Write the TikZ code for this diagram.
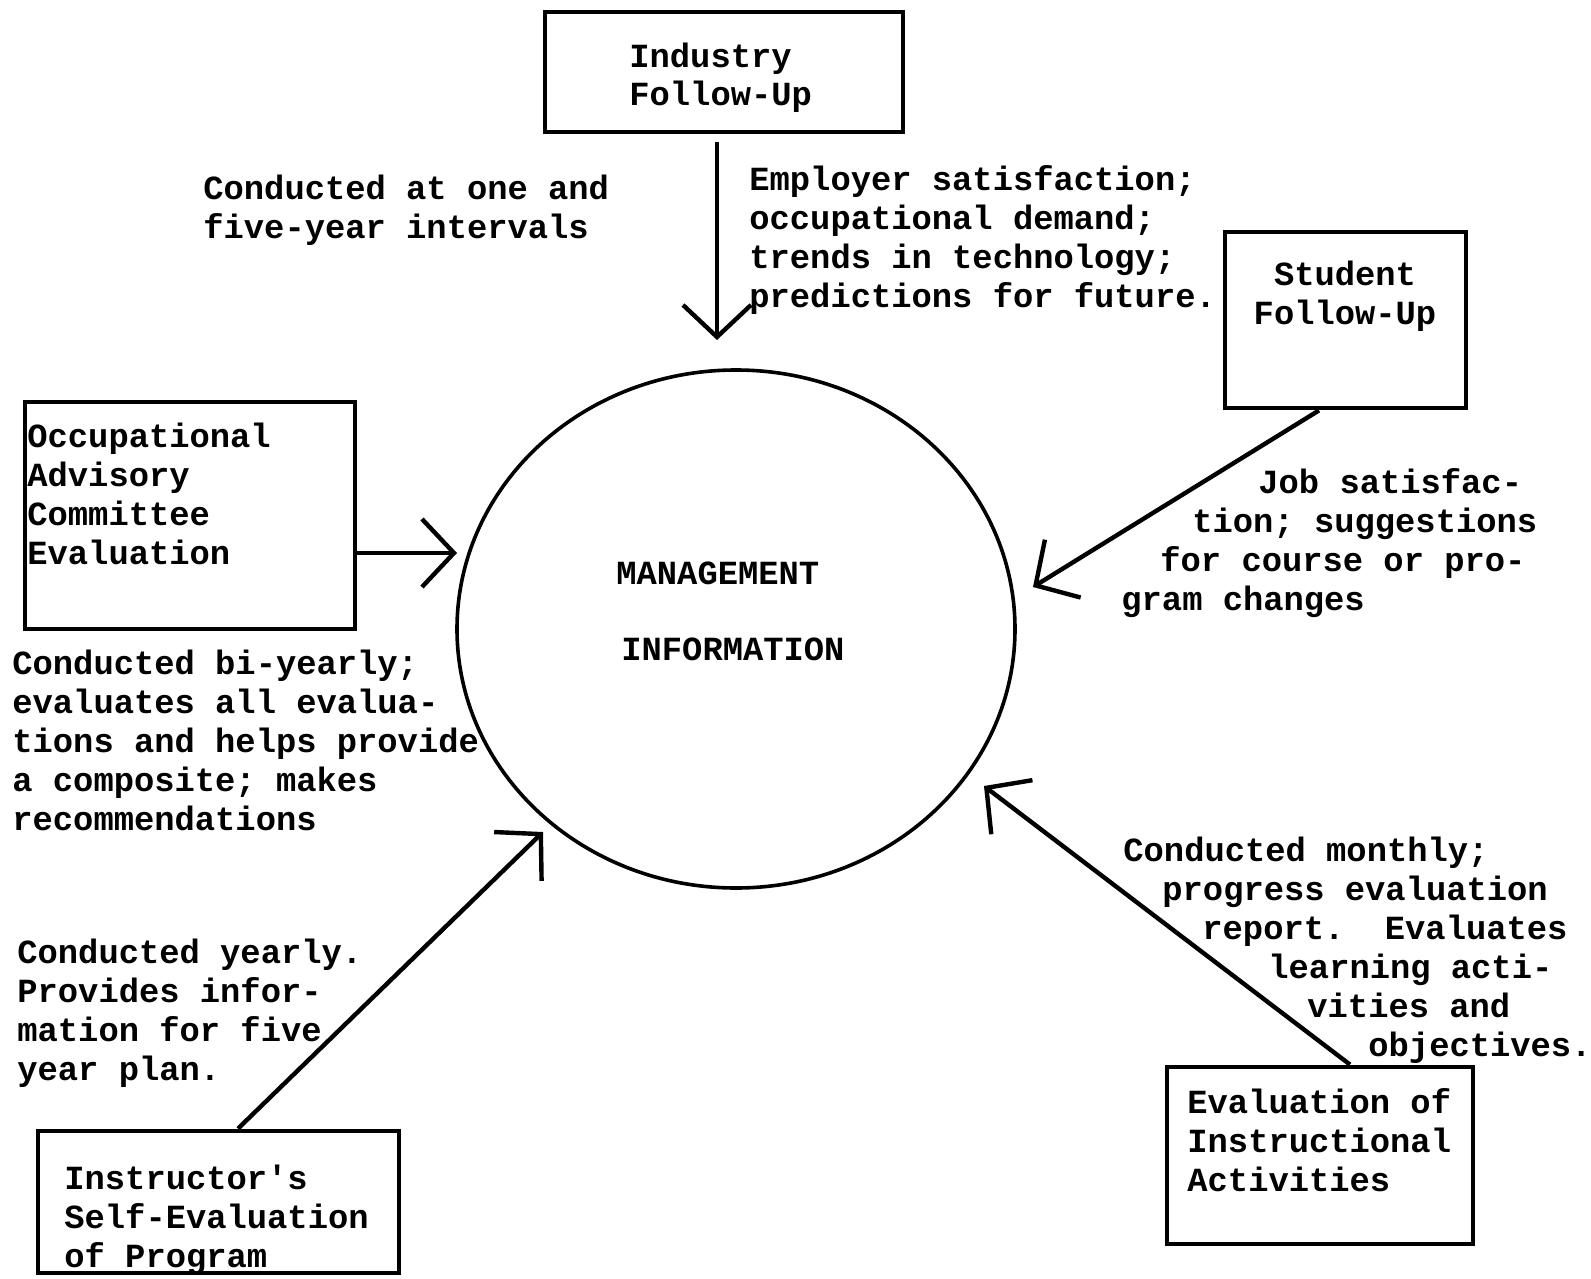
\documentclass[tikz,border=0pt]{standalone}
\usepackage{fontspec}
\usetikzlibrary{arrows.meta,shapes.geometric}
\newfontfamily\twfont{Liberation Mono}
\begin{document}
\begin{tikzpicture}[x=0.5pt,y=-0.5pt,
  box/.style={draw, line width=2.4pt, inner sep=0pt},
  txt/.style={font=\twfont\bfseries\fontsize{16.9}{19.5}\selectfont, align=left, inner sep=0pt, anchor=base west},
  ctxt/.style={font=\twfont\bfseries\fontsize{16.9}{19.5}\selectfont, align=center, inner sep=0pt, anchor=base},
  conn/.style={line width=2.2pt, -{Straight Barb[length=16pt,width=34pt]}}]
\fill[white] (0,0) rectangle (1591,1279);
\useasboundingbox (0,0) rectangle (1591,1279);

% boxes
\node[box, minimum width=179pt, minimum height=60pt] (ind) at (724,72) {};
\node[box, minimum width=120.5pt, minimum height=88pt] (stu) at (1345.5,320) {};
\node[box, minimum width=165pt, minimum height=113.5pt] (occ) at (190,515.5) {};
\node[box, minimum width=180.5pt, minimum height=71pt] (ins) at (218.5,1202) {};
\node[box, minimum width=153pt, minimum height=88.5pt] (evl) at (1320,1155.5) {};
\node[draw, ellipse, line width=1.8pt, minimum width=279pt, minimum height=259pt, inner sep=0pt] (mgmt) at (736,629) {};

% box texts (anchor = baseline of last line)
\node[txt] (indt) at (629,106) {Industry\\Follow-Up};
\node[ctxt] (stut) at (1345,324) {Student\\Follow-Up};
\node[txt] (occt) at (27,564) {Occupational\\Advisory\\Committee\\Evaluation};
\node[txt] (inst) at (64,1267) {Instructor's\\Self-Evaluation\\of Program};
\node[txt] (evlt) at (1187,1191) {Evaluation of\\Instructional\\Activities};
\node[txt] (mgt) at (616,660) {MANAGEMENT\\[18.5pt]\hspace*{2.5pt}INFORMATION};

% annotations
\node[txt] (a1) at (203,238) {Conducted at one and\\five-year intervals};
\node[txt] (a2) at (749,307) {Employer satisfaction;\\occupational demand;\\trends in technology;\\predictions for future.};
\node[txt] (a3) at (1121,610) {\hspace*{68.5pt}Job satisfac-\\\hspace*{35.5pt}tion; suggestions\\\hspace*{19.5pt}for course or pro-\\gram changes};
\node[txt] (a4) at (12,830) {Conducted bi-yearly;\\evaluates all evalua-\\tions and helps provide\\a composite; makes\\recommendations};
\node[txt] (a5) at (17,1080) {Conducted yearly.\\Provides infor-\\mation for five\\year plan.};
\node[txt] (a6) at (1123,1056) {Conducted monthly;\\\hspace*{19.5pt}progress evaluation\\\hspace*{39.5pt}report.~~Evaluates\\\hspace*{72.5pt}learning acti-\\\hspace*{92pt}vities and\\\hspace*{122.5pt}objectives.};

% arrow tips near the circle
\coordinate (tI) at (717,340);
\coordinate (tS) at (1033,587);
\coordinate (tO) at (457,553);
\coordinate (tN) at (543,832);
\coordinate (tE) at (984,786);

\draw[conn] (ind.south -| tI) ++(0,8) -- (tI);
\draw[conn] (stu.south -| 1319,0) -- (tS);
\draw[conn] (occ.east |- tO) -- (tO);
\draw[conn] (ins.north -| 238,0) -- (tN);
\draw[conn] (evl.north -| 1350,0) -- (tE);
\end{tikzpicture}
\end{document}
